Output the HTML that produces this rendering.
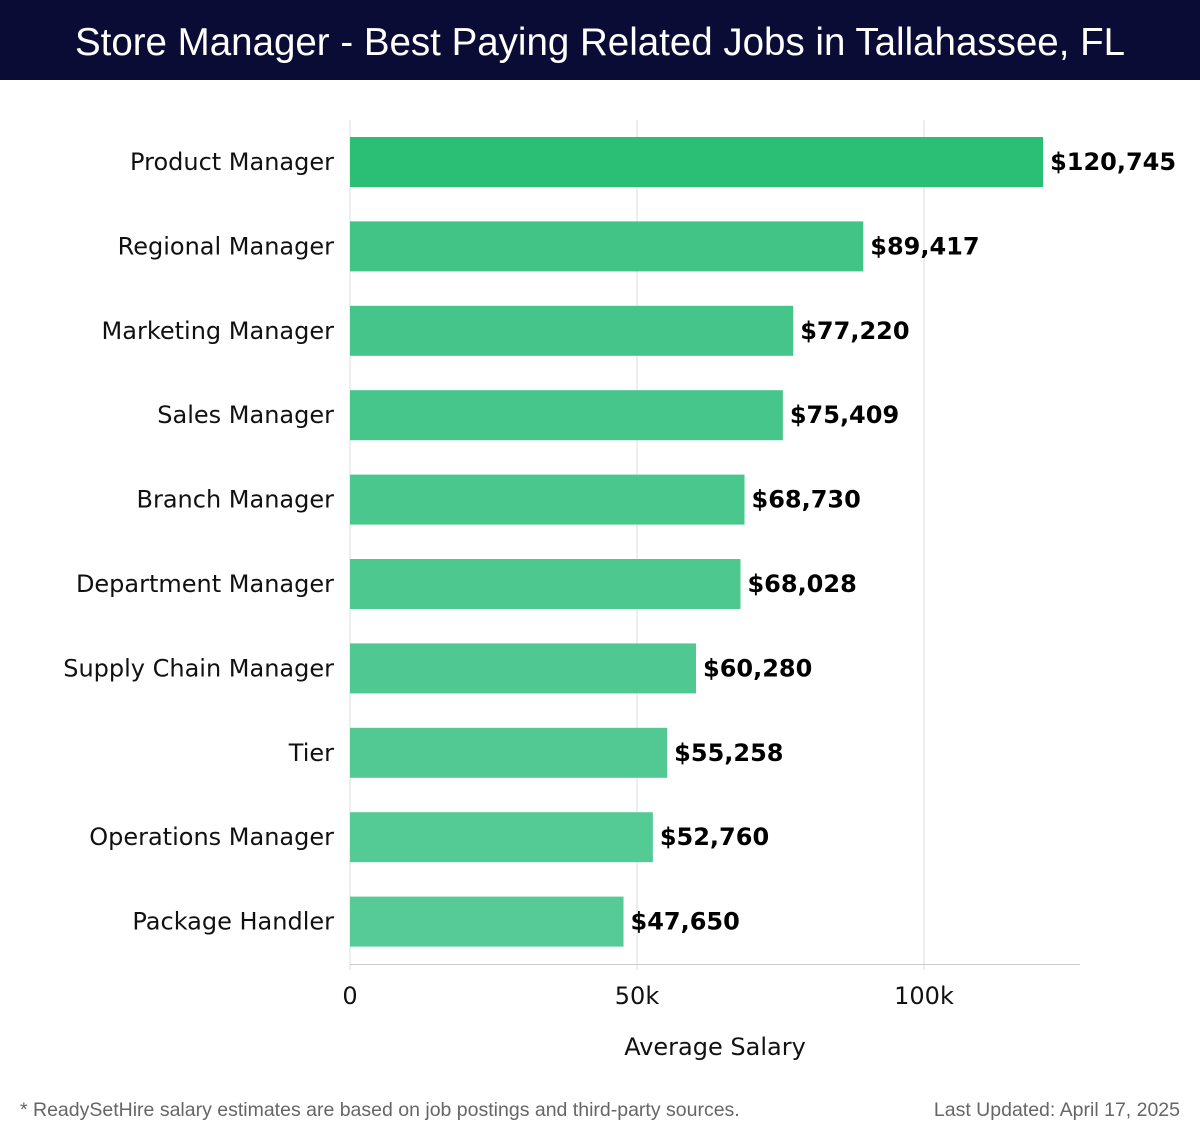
<!DOCTYPE html>
<html><head><meta charset="utf-8"><style>
body{margin:0;width:1200px;height:1140px;background:#fff;overflow:hidden;font-family:"DejaVu Sans","Liberation Sans",sans-serif}
#hdr{position:absolute;left:0;top:0;width:1200px;height:80px;background:#0b0c35;color:#fff;font-family:"Liberation Sans","DejaVu Sans",sans-serif;font-size:38.5px;text-align:center;line-height:86px}
.ft{position:absolute;top:1099px;font-size:19.5px;color:#666;font-family:"Liberation Sans",sans-serif}
</style></head><body>
<div id="hdr">Store Manager - Best Paying Related Jobs in Tallahassee, FL</div>
<svg id="c" width="1200" height="1090" style="position:absolute;left:0;top:0"></svg>
<div class="ft" style="left:20px">* ReadySetHire salary estimates are based on job postings and third-party sources.</div>
<div class="ft" style="right:20px">Last Updated: April 17, 2025</div>
<script>
const categories=["Product Manager","Regional Manager","Marketing Manager","Sales Manager","Branch Manager","Department Manager","Supply Chain Manager","Tier","Operations Manager","Package Handler"];
const values=[120745,89417,77220,75409,68730,68028,60280,55258,52760,47650];
const tickValues=[0,50000,100000];
const tickLabels=["0","50k","100k"];
const NS="http://www.w3.org/2000/svg";
const svg=document.getElementById('c');
const x0=350,pxPer=574/100000,plotTop=120,step=84.4,bh=50;
const xs=v=>x0+v*pxPer;
const yc=i=>plotTop+42+i*step;
function mk(t,a){const e=document.createElementNS(NS,t);for(const k in a)e.setAttribute(k,a[k]);svg.appendChild(e);return e;}
tickValues.forEach((v,i)=>{
 const g=mk('line',{x1:xs(v),x2:xs(v),y1:plotTop,y2:970,stroke:'#ddd','stroke-width':1});
 
 
 const t=mk('text',{x:xs(v),y:1004,'font-size':24,'text-anchor':'middle',fill:'#111'});
 t.textContent=tickLabels[i];
 
 
});
const ax=mk('line',{x1:x0,x2:1080,y1:964.5,y2:964.5,stroke:'#ccc','stroke-width':1});


const n=values.length;
values.forEach((v,i)=>{
 const col=i===0?'rgb(43,191,118)':`rgb(${Math.round(66+(87-66)*(i-1)/(n-2))},${Math.round(196+(203-196)*(i-1)/(n-2))},${Math.round(135+(151-135)*(i-1)/(n-2))})`;
 const r=mk('rect',{x:x0,y:yc(i)-bh/2,width:xs(v)-x0,height:bh,fill:col});
 
 
 const l=mk('text',{x:334,y:yc(i)+8,'font-size':24,'text-anchor':'end',fill:'#111'});
 l.textContent=categories[i];
 
 
 const vl=mk('text',{x:xs(v)+7,y:yc(i)+8,'font-size':24,'font-weight':'bold',fill:'#000'});
 vl.textContent='$'+v.toLocaleString('en-US');
 
 
});
const at=mk('text',{x:715,y:1055,'font-size':24,'text-anchor':'middle',fill:'#111'});
at.textContent='Average Salary';


</script>
</body></html>
